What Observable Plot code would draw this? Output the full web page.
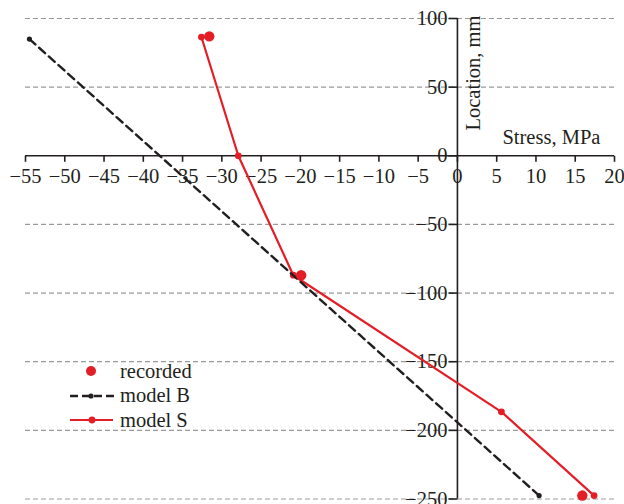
<!DOCTYPE html>
<html>
<head>
<meta charset="utf-8">
<script src="https://cdn.jsdelivr.net/npm/d3@7"></script>
<script src="https://cdn.jsdelivr.net/npm/@observablehq/plot@0.6"></script>
<style>
  html, body { margin: 0; padding: 0; background: #fff; }
  #wrap { position: relative; width: 624px; height: 504px; overflow: hidden; }
  #legend { position: absolute; left: 70px; top: 359px; font-family: "Liberation Serif", "DejaVu Serif", serif; font-size: 20.5px; color: #231f20; }
  #legend .row { display: flex; align-items: center; height: 24.5px; }
  #legend svg { width: 44px; height: 14px; margin-right: 6px; }
</style>
</head>
<body>
<div id="wrap"></div>
<script>
// ---- data ----
const modelBStress = [-54.5, 10.4];
const modelBLocation = [85, -247.5];
const modelSStress = [-32.6, -27.9, -20.9, 5.6, 17.4];
const modelSLocation = [86.5, 0, -87, -186.5, -247.5];
const recordedStress = [-31.6, -19.9, 15.9];
const recordedLocation = [87, -87, -247.5];
const xTicks = [-55, -50, -45, -40, -35, -30, -25, -20, -15, -10, -5, 0, 5, 10, 15, 20];
const yTicks = [100, 50, 0, -50, -100, -150, -200, -250];
const gridY = [100, 50, -50, -100, -150, -200, -250];
const seriesNames = ["recorded", "model B", "model S"];

const RED = "#e41e26";
const INK = "#231f20";
const FONT = "Liberation Serif, DejaVu Serif, serif";
const FS = 20.5;

const modelB = modelBStress.map((x, i) => ({x, y: modelBLocation[i]}));
const modelS = modelSStress.map((x, i) => ({x, y: modelSLocation[i]}));
const recorded = recordedStress.map((x, i) => ({x, y: recordedLocation[i]}));

const fmt = v => (v < 0 ? "\u2212" + Math.abs(v) : String(v));
const tickDown = {draw(ctx) { ctx.moveTo(0, 0); ctx.lineTo(0, 6); }};
const tickLeft = {draw(ctx) { ctx.moveTo(0, 0); ctx.lineTo(-9, 0); }};

const chart = Plot.plot({
  width: 624,
  height: 504,
  marginLeft: 25,
  marginRight: 10,
  marginTop: 18,
  marginBottom: 5.5,
  style: {fontFamily: FONT, fontSize: FS + "px", color: INK, background: "white", overflow: "visible"},
  x: {domain: [-55, 20], axis: null},
  y: {domain: [-250, 100], axis: null},
  marks: [
    Plot.ruleY(gridY, {stroke: "#9a9a9a", strokeWidth: 1.2, strokeDasharray: "5,3"}),
    Plot.ruleY([0], {x1: -55, x2: 20, stroke: INK, strokeWidth: 1.6}),
    Plot.ruleX([0], {y1: -250, y2: 100, stroke: INK, strokeWidth: 1.6}),
    Plot.dot(xTicks, {x: d => d, y: 0, symbol: tickDown, r: 3, stroke: INK, strokeWidth: 1.6, fill: "none"}),
    Plot.dot(yTicks, {x: 0, y: d => d, symbol: tickLeft, r: 3, stroke: INK, strokeWidth: 1.6, fill: "none"}),
    Plot.text(xTicks, {x: d => d, y: 0, text: fmt, dy: 21, fill: INK, fontSize: FS}),
    Plot.text(yTicks, {x: 0, y: d => d, text: fmt, dx: -10, textAnchor: "end", fill: INK, fontSize: FS}),
    Plot.text(["Location, mm"], {x: 0, y: 100, text: d => d, rotate: -90, textAnchor: "end", dx: 16, dy: -3, fill: INK, fontSize: FS}),
    Plot.text(["Stress, MPa"], {x: 0, y: 0, text: d => d, textAnchor: "start", dx: 45, dy: -18, fill: INK, fontSize: FS}),
    Plot.line(modelS, {x: "x", y: "y", stroke: RED, strokeWidth: 2.2}),
    Plot.dot(modelS, {x: "x", y: "y", r: 3.4, fill: RED}),
    Plot.line(modelB, {x: "x", y: "y", stroke: INK, strokeWidth: 2.4, strokeDasharray: "8,5"}),
    Plot.dot(modelB, {x: "x", y: "y", r: 2.6, fill: INK}),
    Plot.dot(recorded, {x: "x", y: "y", r: 5.2, fill: RED})
  ]
});

const wrap = document.getElementById("wrap");
wrap.appendChild(chart);

const legend = document.createElement("div");
legend.id = "legend";
const swatches = [
  `<svg viewBox="0 0 44 14"><circle cx="21" cy="7" r="5" fill="${RED}"/></svg>`,
  `<svg viewBox="0 0 44 14"><line x1="0" y1="7" x2="44" y2="7" stroke="${INK}" stroke-width="2.4" stroke-dasharray="8,4"/><circle cx="21" cy="7" r="2.6" fill="${INK}"/></svg>`,
  `<svg viewBox="0 0 44 14"><line x1="0" y1="7" x2="43" y2="7" stroke="${RED}" stroke-width="2.2"/><circle cx="22" cy="7" r="3.4" fill="${RED}"/></svg>`
];
legend.innerHTML = seriesNames.map((n, i) => `<div class="row">${swatches[i]}<span>${n}</span></div>`).join("");
wrap.appendChild(legend);
</script>
</body>
</html>
